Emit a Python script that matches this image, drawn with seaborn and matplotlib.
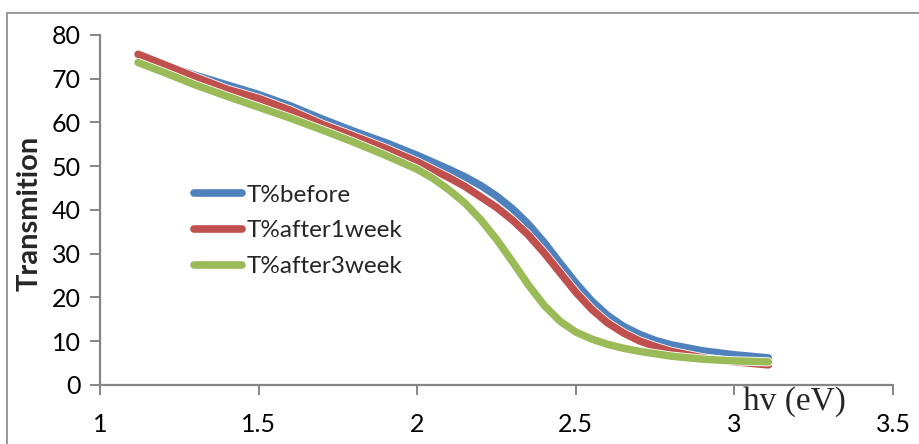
import matplotlib
matplotlib.use("Agg")
import matplotlib.pyplot as plt
import matplotlib.patheffects as pe
from matplotlib.patches import Rectangle
import seaborn as sns
import pandas as pd

# photon energy (eV) and transmission (%) for each film
x_before = [1.12, 1.2, 1.3, 1.4, 1.5, 1.6, 1.7, 1.8, 1.9, 2.0, 2.1, 2.15, 2.2, 2.25, 2.3,
            2.35, 2.4, 2.45, 2.5, 2.55, 2.6, 2.65, 2.7, 2.75, 2.8, 2.9, 3.0, 3.107]
t_before = [75.3, 73.2, 70.8, 68.6, 66.4, 63.8, 60.8, 58.0, 55.4, 52.5, 49.3, 47.6, 45.6, 43.2, 40.3,
            36.8, 32.6, 27.9, 23.3, 19.2, 15.9, 13.4, 11.6, 10.2, 9.2, 7.8, 6.9, 6.2]

x_week1 = [1.12, 1.2, 1.3, 1.4, 1.5, 1.6, 1.7, 1.8, 1.9, 2.0, 2.1, 2.15, 2.2, 2.25, 2.3, 2.35,
           2.4, 2.45, 2.5, 2.55, 2.6, 2.65, 2.7, 2.75, 2.8, 2.9, 3.0, 3.107]
t_week1 = [75.6, 73.3, 70.4, 67.6, 65.5, 62.8, 59.6, 56.9, 54.1, 51.0, 47.4, 45.4, 43.0, 40.6, 37.7, 34.3,
           30.2, 25.7, 21.2, 17.3, 14.2, 11.9, 10.1, 8.8, 7.7, 6.2, 5.3, 4.6]

x_week3 = [1.12, 1.2, 1.3, 1.4, 1.5, 1.6, 1.7, 1.8, 1.9, 2.0, 2.05, 2.1, 2.15, 2.2, 2.25,
           2.3, 2.35, 2.4, 2.45, 2.5, 2.55, 2.6, 2.65, 2.7, 2.8, 2.9, 3.0, 3.107]
t_week3 = [73.7, 71.5, 68.6, 66.0, 63.5, 61.0, 58.3, 55.5, 52.5, 49.3, 47.2, 44.6, 41.6, 37.8, 33.3,
           28.2, 22.9, 18.2, 14.6, 12.1, 10.5, 9.3, 8.4, 7.7, 6.6, 5.9, 5.5, 5.3]

labels = ["T%before", "T%after1week", "T%after3week"]
colors = ["#4F81BD", "#C0504D", "#9BBB59"]

x_ticks = [1, 1.5, 2, 2.5, 3, 3.5]
x_tick_labels = ["1", "1.5", "2", "2.5", "3", "3.5"]
y_ticks = [0, 10, 20, 30, 40, 50, 60, 70, 80]

sns.set_theme(style="white")
plt.rcParams["font.family"] = ["Lato", "DejaVu Sans"]

fig = plt.figure(figsize=(9.2, 4.44), dpi=100)
ax = fig.add_axes([0.1087, 0.1329, 0.862, 0.7883])

axis_gray = "#868686"
for xs, ys, lab, col in zip([x_before, x_week1, x_week3],
                            [t_before, t_week1, t_week3], labels, colors):
    df = pd.DataFrame({"hv": xs, "T": ys})
    sns.lineplot(data=df, x="hv", y="T", ax=ax, color=col, linewidth=5.4,
                 label=lab, sort=False, solid_capstyle="round", solid_joinstyle="round",
                 path_effects=[pe.Stroke(linewidth=6.6, foreground="white"), pe.Normal()])

ax.set_xlim(1, 3.5)
ax.set_ylim(0, 80)
ax.set_xticks(x_ticks)
ax.set_xticklabels(x_tick_labels)
ax.set_yticks(y_ticks)
ax.tick_params(axis="both", direction="out", length=7, width=1.4, color=axis_gray,
               labelsize=18, labelcolor="black", bottom=True, left=True)
ax.tick_params(axis="x", pad=13)
ax.tick_params(axis="y", pad=7)
for side in ["top", "right"]:
    ax.spines[side].set_visible(False)
for side in ["left", "bottom"]:
    ax.spines[side].set_color(axis_gray)
    ax.spines[side].set_linewidth(1.6)

ax.set_xlabel("")
ax.set_ylabel("Transmition", fontsize=21, fontweight="bold")
ax.yaxis.set_label_coords(-0.072, 0.489)
fig.text(794 / 920, 1 - 402 / 444, "hv (eV)", family="Liberation Serif", fontsize=24,
         ha="center", va="center")

leg = ax.legend(loc="upper left", bbox_to_anchor=(172 / 920, 1 - 163 / 444),
                bbox_transform=fig.transFigure, frameon=False, fontsize=17.5,
                handlelength=2.0, handletextpad=0.15, labelspacing=0.6)
for line in leg.get_lines():
    line.set_linewidth(5.5)
    line.set_solid_capstyle("round")

# outer chart border
fig.patches.append(Rectangle((7 / 920, -0.2), 1.2, 1 - 13 / 444 + 0.2,
                             transform=fig.transFigure, fill=False,
                             edgecolor="#878787", linewidth=1.2))

fig.savefig("out.png", dpi=100)
